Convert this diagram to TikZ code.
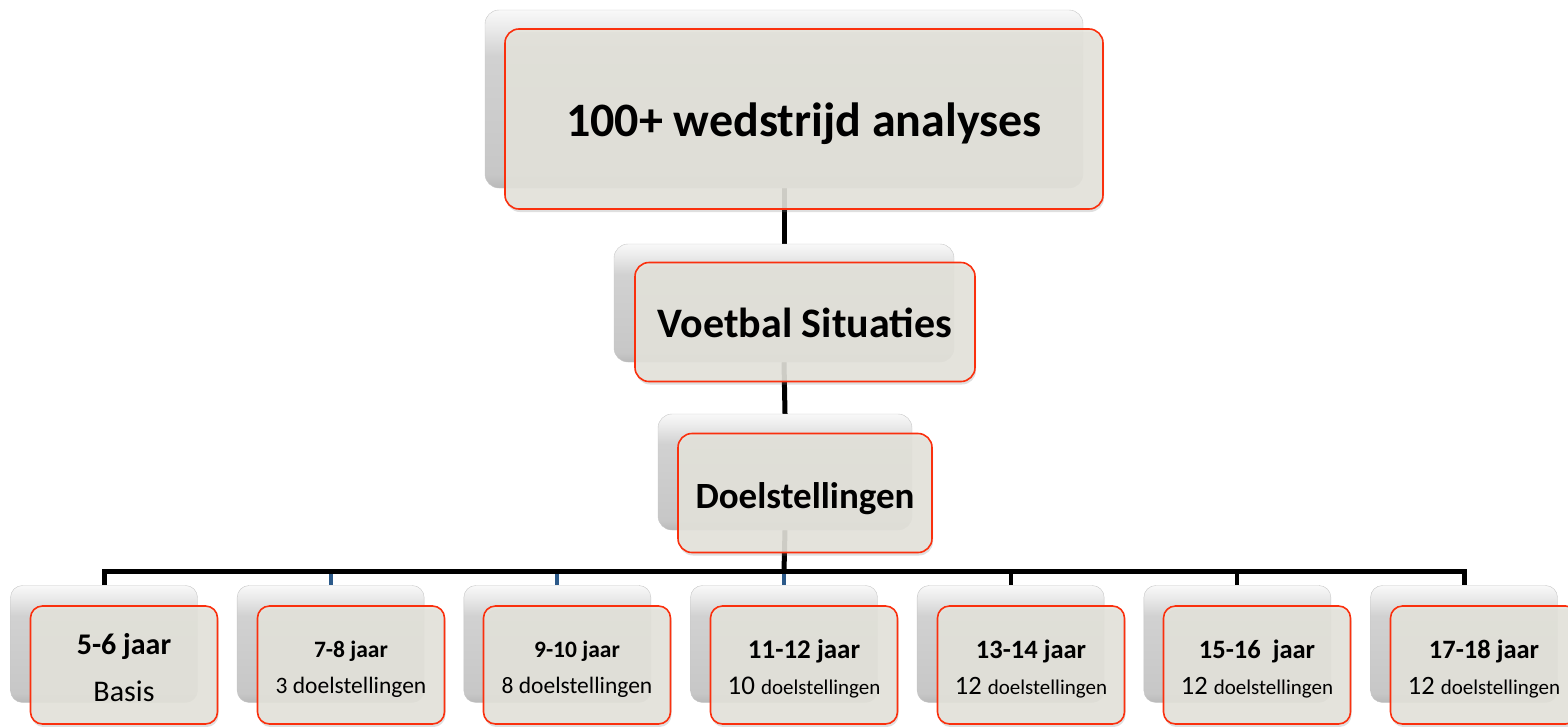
\documentclass[tikz,border=0pt]{standalone}
\usepackage{fontspec}
\setmainfont{Carlito}
\usetikzlibrary{shadows}

\definecolor{boxfill}{RGB}{229,228,220}
\definecolor{boxline}{RGB}{250,48,14}
\definecolor{droplink}{RGB}{44,90,138}
\newcommand{\fsz}[1]{\fontsize{#1}{36}\selectfont}
\newcommand{\lift}[1]{\rule{0pt}{#1pt}}

% grey bevel of the boxes behind (path sits in 25bp..75bp)
\pgfdeclareverticalshading{bevel}{100bp}{color(0bp)=(gray!55); color(25bp)=(gray!55);
    color(29bp)=(gray!44); color(62bp)=(gray!36); color(70bp)=(gray!16);
    color(75bp)=(gray!5); color(100bp)=(gray!5)}

\pgfdeclarelayer{background}
\pgfsetlayers{background,main}

\begin{document}
\begin{tikzpicture}[x=1pt, y=-1pt,
    back/.style={rounded corners=14pt, draw=gray!45, shading=bevel},
    front/.style={rounded corners=14pt, draw=boxline, line width=1.6pt, fill=boxfill,
        fill opacity=0.88, text opacity=1, align=center,
        drop shadow={opacity=0.25, shadow xshift=1pt, shadow yshift=-3pt}},
    link/.style={line width=5pt},
    drop/.style={line width=4pt}]
    \useasboundingbox (0,0) rectangle (1568,726);

    % Top levels
    \node[back, minimum width=598, minimum height=178] (analysesback) at (784,99) {};
    \node[front, minimum width=598, minimum height=180, font=\fsz{48}\bfseries,
        text height=34pt, text depth=0pt] (analyses) at (804,119) {100+ wedstrijd analyses};

    \node[back, minimum width=340, minimum height=118] (situatiesback) at (784,303) {};
    \node[front, minimum width=340, minimum height=119, font=\fsz{42}\bfseries,
        text height=30pt, text depth=0pt] (situaties) at (805,322) {Voetbal Situaties};

    \node[back, minimum width=254, minimum height=116] (doelback) at (785,472) {};
    \node[front, minimum width=254, minimum height=119, font=\fsz{37}\bfseries,
        text height=30pt, text depth=0pt] (doel) at (805,493) {Doelstellingen};

    % Age groups
    \foreach \i in {1,...,7}
        \node[back, rounded corners=12pt, minimum width=187, minimum height=117] (age\i back) at ({104+226.67*(\i-1)},644) {};

    \node[front, rounded corners=12pt, minimum width=187, minimum height=118, font=\fsz{30}] (age1) at (124,665) {\lift{27}\textbf{5-6 jaar}\\[11pt]Basis};
    \node[front, rounded corners=12pt, minimum width=187, minimum height=118, font=\fsz{23.5}] (age2) at (351,665) {\lift{25}\textbf{7-8 jaar}\\3 doelstellingen};
    \node[front, rounded corners=12pt, minimum width=187, minimum height=118, font=\fsz{23.5}] (age3) at (577,665) {\lift{25}\textbf{9-10 jaar}\\8 doelstellingen};
    \node[front, rounded corners=12pt, minimum width=187, minimum height=118, font=\fsz{27}] (age4) at (804,665) {\lift{27}\textbf{11-12 jaar}\\10 {\fontsize{21}{36}\selectfont doelstellingen}};
    \node[front, rounded corners=12pt, minimum width=187, minimum height=118, font=\fsz{26.5}] (age5) at (1031,665) {\lift{27}\textbf{13-14 jaar}\\12 {\fontsize{21}{36}\selectfont doelstellingen}};
    \node[front, rounded corners=12pt, minimum width=187, minimum height=118, font=\fsz{26.5}] (age6) at (1257,665) {\lift{27}\textbf{15-16\ \ jaar}\\12 {\fontsize{21}{36}\selectfont doelstellingen}};
    \node[front, rounded corners=12pt, minimum width=187, minimum height=118, font=\fsz{26.5}] (age7) at (1484,665) {\lift{27}\textbf{17-18 jaar}\\12 {\fontsize{21}{36}\selectfont doelstellingen}};

    \coordinate (bar) at (784,571);

    % Connectors
    \begin{pgfonlayer}{background}
        \draw[link] (analysesback.south) -- (situatiesback.north);
        \draw[link] (situatiesback.south) -- (doelback.north);
        \draw[link] (doelback.south) -- (bar);
        \foreach \i/\c in {2/droplink,3/droplink,4/droplink,5/black,6/black}
            \draw[drop, \c] (age\i back.north |- bar) -- (age\i back.north);
        \draw[link] (age1back.north) |- (bar) -| (age7back.north);
    \end{pgfonlayer}
\end{tikzpicture}
\end{document}
